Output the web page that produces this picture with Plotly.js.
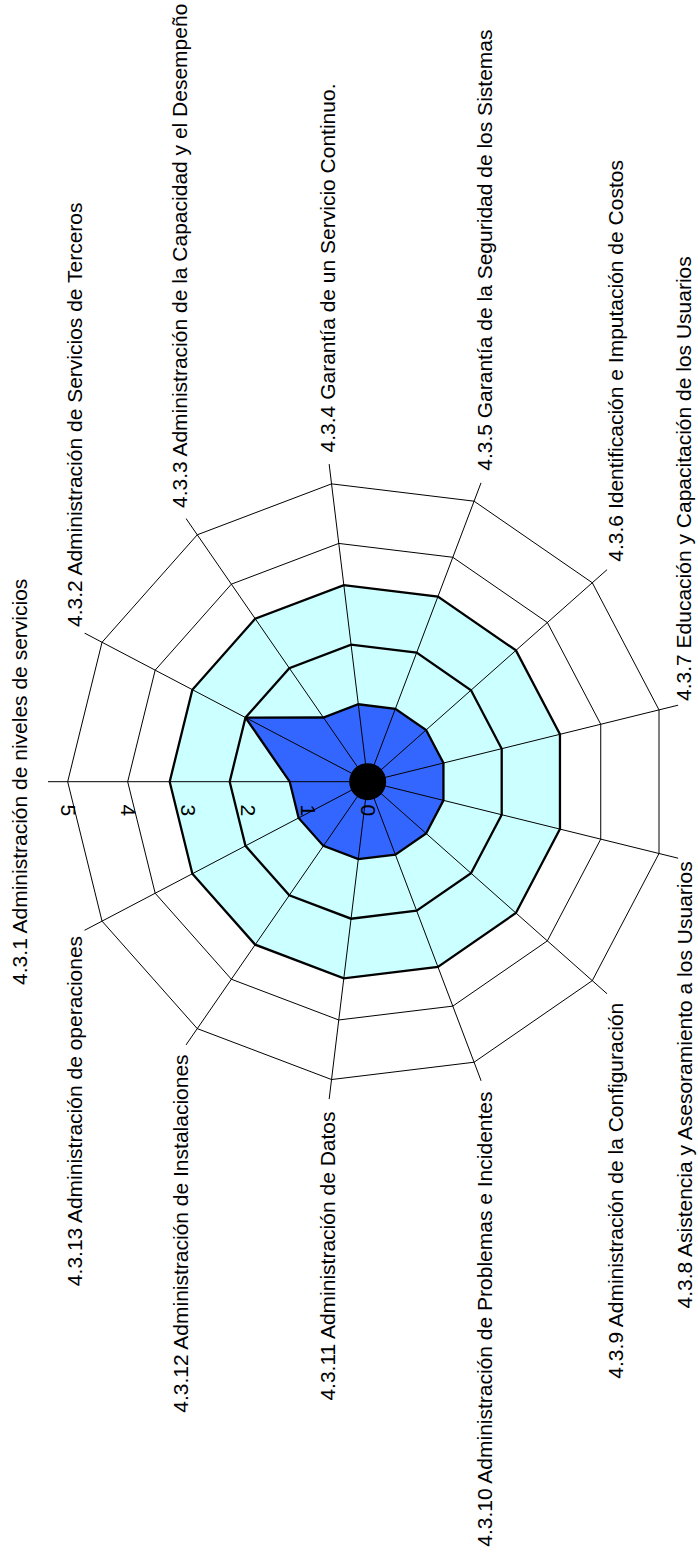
<!DOCTYPE html>
<html>
<head>
<meta charset="utf-8">
<script src="https://cdn.plot.ly/plotly-3.0.1.min.js"></script>
<style>
  html, body { margin: 0; padding: 0; background: #ffffff; }
  #chart { width: 698px; height: 1555px; }
</style>
</head>
<body>
<div id="chart"></div>
<script>
// Categories (process areas), clockwise from the left spoke
const categories = [
  '4.3.1 Administración de niveles de servicios',
  '4.3.2 Administración de Servicios de Terceros',
  '4.3.3 Administración de la Capacidad y el Desempeño',
  '4.3.4 Garantía de un Servicio Continuo.',
  '4.3.5 Garantía de la Seguridad de los Sistemas',
  '4.3.6 Identificación e Imputación de Costos',
  '4.3.7 Educación y Capacitación de los Usuarios',
  '4.3.8 Asistencia y Asesoramiento a los Usuarios',
  '4.3.9 Administración de la Configuración',
  '4.3.10 Administración de Problemas e Incidentes',
  '4.3.11 Administración de Datos',
  '4.3.12 Administración de Instalaciones',
  '4.3.13 Administración de operaciones'
];

// Series values
const nivelObjetivo   = [3.3, 3.3, 3.3, 3.3, 3.3, 3.3, 3.3, 3.3, 3.3, 3.3, 3.3, 3.3, 3.3];
const nivelIntermedio = [2.3, 2.3, 2.3, 2.3, 2.3, 2.3, 2.3, 2.3, 2.3, 2.3, 2.3, 2.3, 2.3];
const nivelActual     = [1.3, 2.3, 1.3, 1.3, 1.3, 1.3, 1.3, 1.3, 1.3, 1.3, 1.3, 1.3, 1.3];

// Radial scale ticks
const radialTicks = [0, 1, 2, 3, 4, 5];
const radialTickText = ['0', '1', '2', '3', '4', '5'];

// Page geometry
const W = 698, H = 1555;
const CX = 367.7, CY = 781.7;     // centre of the radar, px
const RPX = 320;                  // radius of the plot area, px
const RMAX = 5.333;               // radial value at the plot edge
const LABEL_R = 331;              // px from centre where category labels sit
const LABEL_HALF = 14;            // half the thickness of a rotated label line
const FONT = 'Liberation Sans, Arial, sans-serif';

function closed(arr) { return arr.concat([arr[0]]); }
const thetaClosed = closed(categories);

const traces = [];

// Outer light-cyan band
traces.push({
  type: 'scatterpolar', r: closed(nivelObjetivo), theta: thetaClosed,
  mode: 'lines', fill: 'toself', fillcolor: '#CCFFFF',
  line: { color: '#000000', width: 2.3 }, hoverinfo: 'skip'
});
// Inner ring
traces.push({
  type: 'scatterpolar', r: closed(nivelIntermedio), theta: thetaClosed,
  mode: 'lines', fill: 'toself', fillcolor: '#CCFFFF',
  line: { color: '#000000', width: 2.3 }, hoverinfo: 'skip'
});
// Current level
traces.push({
  type: 'scatterpolar', r: closed(nivelActual), theta: thetaClosed,
  mode: 'lines', fill: 'toself', fillcolor: '#3366FF',
  line: { color: '#000000', width: 2.3 }, hoverinfo: 'skip'
});

// Spokes drawn over the filled areas
const spokeR = [], spokeT = [];
categories.forEach(c => { spokeR.push(0, RMAX, null); spokeT.push(c, c, null); });
traces.push({
  type: 'scatterpolar', r: spokeR, theta: spokeT, mode: 'lines',
  line: { color: '#000000', width: 1 }, connectgaps: false, hoverinfo: 'skip'
});

// Centre hub (a hair off zero: a point exactly at r = 0 is culled on a linear grid)
const HUB_R = 0.0005;
traces.push({
  type: 'scatterpolar', r: [HUB_R], theta: [categories[0]], mode: 'markers',
  cliponaxis: false,
  marker: { color: '#000000', size: 37, line: { width: 0 } }, hoverinfo: 'skip'
});

// Category labels, rotated to read upwards, placed just past each spoke end
const n = categories.length;
const annotations = categories.map((c, i) => {
  const a = (180 - i * 360 / n) * Math.PI / 180;
  const px = Math.min(CX + LABEL_R * Math.cos(a), W - LABEL_HALF);
  const py = CY - LABEL_R * Math.sin(a);
  const ann = {
    text: c, textangle: -90, showarrow: false,
    xref: 'paper', yref: 'paper', x: px / W, y: 1 - py / H,
    font: { family: FONT, size: 21, color: '#000000' },
    xanchor: 'center', yanchor: 'middle', borderpad: 0
  };
  if (i === 0) { ann.xanchor = 'right'; ann.xshift = -4; }
  else if (Math.sin(a) > 0) { ann.yanchor = 'bottom'; }
  else { ann.yanchor = 'top'; }
  return ann;
});

const layout = {
  width: W, height: H,
  margin: { l: 0, r: 0, t: 0, b: 0, pad: 0 },
  paper_bgcolor: '#ffffff',
  showlegend: false,
  polar: {
    domain: { x: [(CX - RPX) / W, (CX + RPX) / W], y: [(H - CY - RPX) / H, (H - CY + RPX) / H] },
    gridshape: 'linear',
    bgcolor: 'rgba(0,0,0,0)',
    angularaxis: {
      type: 'category', rotation: 180, direction: 'clockwise',
      showline: false, showgrid: false, showticklabels: false, ticks: ''
    },
    radialaxis: {
      range: [0, RMAX], angle: 180, side: 'counterclockwise',
      tickvals: radialTicks, ticktext: radialTickText, tickangle: -90,
      showline: false, showgrid: true, gridcolor: '#000000', gridwidth: 1,
      ticks: 'outside', ticklen: 18, tickcolor: 'rgba(0,0,0,0)',
      tickfont: { family: FONT, size: 21, color: '#000000' }
    }
  },
  annotations: annotations
};

Plotly.newPlot('chart', traces, layout, { staticPlot: true, displayModeBar: false });
</script>
</body>
</html>
